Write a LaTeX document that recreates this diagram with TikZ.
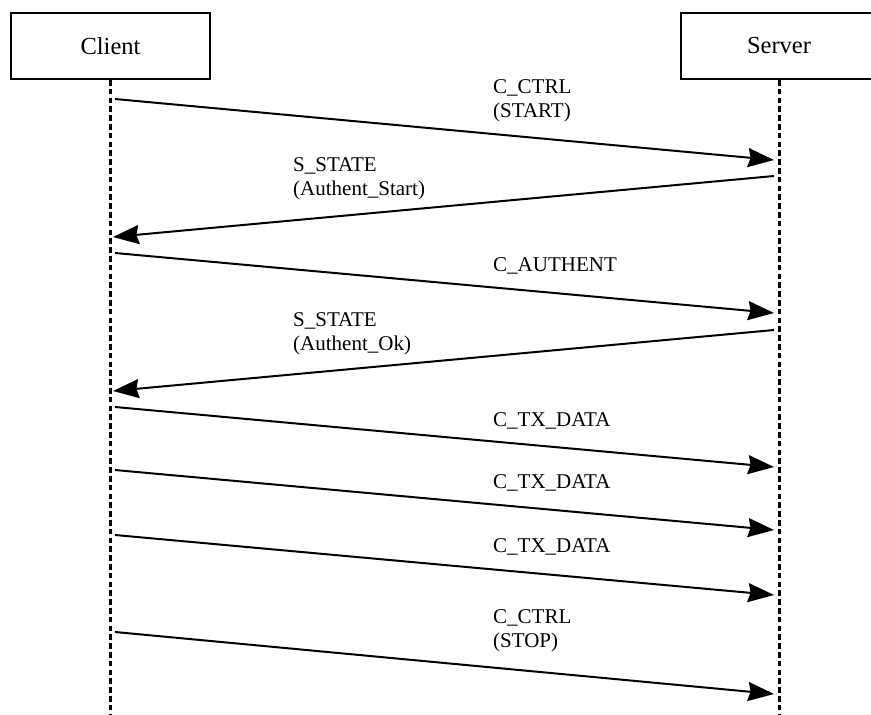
\documentclass[tikz,border=0pt]{standalone}
\usepackage{fontspec}
\setmainfont{Liberation Serif}
\usetikzlibrary{arrows.meta}

\tikzset{
  party/.style={draw, line width=2pt, minimum height=66pt, inner sep=0pt,
                font=\fontsize{24.5}{28}\selectfont},
  lifeline/.style={line width=3pt, dash pattern=on 5.5pt off 3.3pt},
  msg/.style={line width=2pt,
              -{Stealth[length=26pt, width=19pt, inset=2.5pt]}},
  msglabel/.style={anchor=north west, inner sep=0pt, align=left,
                   font=\fontsize{21}{24.5}\selectfont}
}

\begin{document}
\begin{tikzpicture}[x=1pt, y=-1pt]
  \useasboundingbox (0,0) rectangle (871,715);

  % participants
  \node[party, minimum width=199pt] (client) at (110.5,46) {Client};
  \node[party, minimum width=196pt] (server) at (779,46) {Server};

  % lifelines
  \coordinate (clientend) at (110.5,715);
  \coordinate (serverend) at (779,715);
  \draw[lifeline] (client.south) -- (clientend);
  \draw[lifeline] (server.south) -- (serverend);

  % message end points on the lifelines
  \coordinate (c1) at (115,99);   \coordinate (s1) at (774,160);
  \coordinate (s2) at (774,176);  \coordinate (c2) at (113,237);
  \coordinate (c3) at (115,253);  \coordinate (s3) at (774,313);
  \coordinate (s4) at (774,330);  \coordinate (c4) at (113,391);
  \coordinate (c5) at (115,407);  \coordinate (s5) at (774,467);
  \coordinate (c6) at (115,470);  \coordinate (s6) at (774,530);
  \coordinate (c7) at (115,535);  \coordinate (s7) at (774,595);
  \coordinate (c8) at (115,632);  \coordinate (s8) at (774,694);

  % messages
  \draw[msg] (c1) -- (s1);
  \draw[msg] (s2) -- (c2);
  \draw[msg] (c3) -- (s3);
  \draw[msg] (s4) -- (c4);
  \draw[msg] (c5) -- (s5);
  \draw[msg] (c6) -- (s6);
  \draw[msg] (c7) -- (s7);
  \draw[msg] (c8) -- (s8);

  % message labels
  \node[msglabel] (l1) at (493,79)  {C\_CTRL\\(START)};
  \node[msglabel] (l2) at (293,157) {S\_STATE\\(Authent\_Start)};
  \node[msglabel] (l3) at (493,257) {C\_AUTHENT};
  \node[msglabel] (l4) at (293,312) {S\_STATE\\(Authent\_Ok)};
  \node[msglabel] (l5) at (493,412) {C\_TX\_DATA};
  \node[msglabel] (l6) at (493,474) {C\_TX\_DATA};
  \node[msglabel] (l7) at (493,538) {C\_TX\_DATA};
  \node[msglabel] (l8) at (493,609) {C\_CTRL\\(STOP)};
\end{tikzpicture}
\end{document}
